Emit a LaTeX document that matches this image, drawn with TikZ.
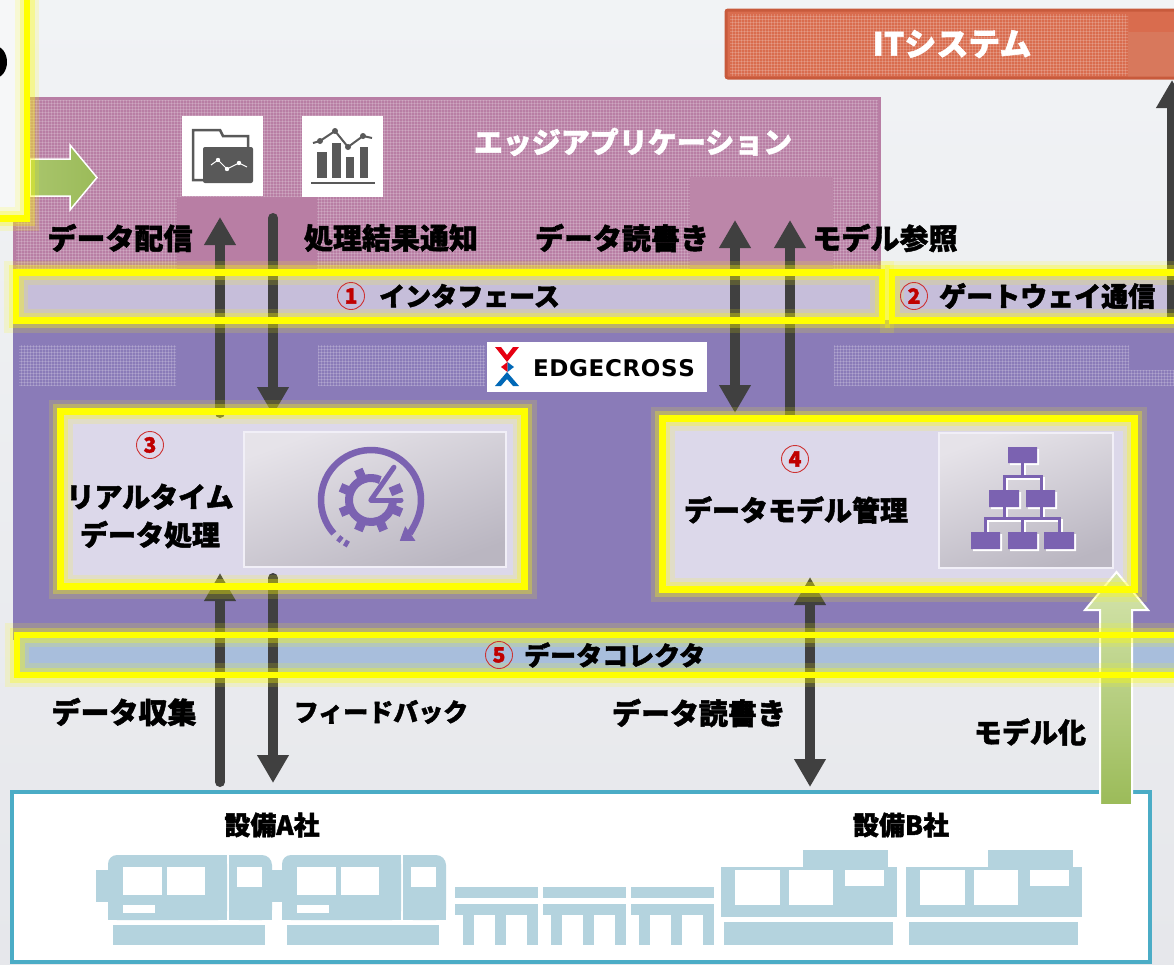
\documentclass[tikz,border=0pt]{standalone}
\usepackage{fontspec}
\setmainfont{Noto Sans CJK JP}[BoldFeatures={FakeBold=1.6}]
\newfontfamily\logofont{DejaVu Sans}
\usetikzlibrary{arrows.meta,patterns}
\newcommand\fsz[1]{\fontsize{#1}{#1}\selectfont}

\definecolor{BgT}{HTML}{F1F3F5}
\definecolor{BgB}{HTML}{E6E7EB}
\definecolor{EAc}{HTML}{B87EA4}
\definecolor{EAl}{HTML}{BC86A9}
\definecolor{ITc}{HTML}{D96C4E}
\definecolor{ITl}{HTML}{D8785C}
\definecolor{ITb}{HTML}{C85A3C}
\definecolor{ECc}{HTML}{8A7BB8}
\definecolor{IFc}{HTML}{C6BEDA}
\definecolor{DCc}{HTML}{A8BEDC}
\definecolor{INc}{HTML}{DCD8EA}
\definecolor{Dk}{HTML}{404040}
\definecolor{Yel}{HTML}{FFFF00}
\definecolor{Ic}{HTML}{7B62B1}
\definecolor{Gy}{HTML}{595959}
\definecolor{NumR}{HTML}{C00000}
\definecolor{Mach}{HTML}{B4D3DE}
\definecolor{Teal}{HTML}{4BACC6}
\definecolor{GrD}{HTML}{9BBB59}
\definecolor{GrM}{HTML}{A9C56C}
\definecolor{GrL}{HTML}{D6E5AE}
\definecolor{LogoR}{HTML}{E60012}
\definecolor{LogoB}{HTML}{0068B7}
\definecolor{PanT}{HTML}{E6E3E9}
\definecolor{PanB}{HTML}{BAB6C1}
\definecolor{Pnl}{HTML}{F6F7F8}

\tikzset{
  yglow/.style={draw=Yel, line width=6.5,
    preaction={draw=Yel, line width=24, opacity=0.15},
    preaction={draw=Yel, line width=15, opacity=0.3}},
  darr/.style={draw=Dk, line width=10, line cap=round, -{Triangle[width=30pt,length=28pt]}},
  ddarr/.style={draw=Dk, line width=10, {Triangle[width=30pt,length=28pt]}-{Triangle[width=30pt,length=28pt]}},
  lbl/.style={font={\bfseries\fsz{29}}, inner sep=0, text=black},
  wlbl/.style={lbl, text=white},
  num/.style={circle, draw=NumR!80!white, line width=0.9, minimum size=27, inner sep=0,
    font={\bfseries\fsz{21}}, text=NumR},
  tex/.style={pattern=grid, pattern color=white, opacity=0.18},
  boxnode/.style={fill=INc, inner sep=0, outer sep=0}
}

\begin{document}
\begin{tikzpicture}[x=1pt,y=-1pt]
\useasboundingbox (0,0) rectangle (1174,964);
\clip (0,0) rectangle (1174,964);
\shade[top color=BgT, bottom color=BgB] (0,0) rectangle (1174,964);

% IT system bar
\fill[ITc] (726,10) rectangle (1190,78);
\fill[tex] (730,14) rectangle (1128,75);
\fill[ITl] (1128,32) rectangle (1190,77);
\draw[ITb, line width=3, rounded corners=2] (726,10) rectangle (1190,78);

% edge application layer
\fill[EAc] (13,97) rectangle (881,300);
\fill[tex] (16,100) rectangle (878,272);
\fill[EAc] (177,197) rectangle (317,272);
\fill[EAl] (690,177) rectangle (833,272);

% folder icon
\fill[white] (182,116) rectangle (263,196);
\draw[Gy, line width=2.5] (203,180) -- (193,180) -- (193,130) -- (220,130) -- (223,136) -- (248,136) -- (248,147);
\fill[Gy, rounded corners=2] (203,147) rectangle (253,183);
\draw[white, line width=1] (211,165) -- (218,160) -- (227,169) -- (239,163) -- (247,167);
\foreach \p in {(218,160),(227,169),(239,163)} \fill[white] \p circle (2.2);

% chart icon
\fill[white] (302,116) rectangle (383,197);
\fill[Gy] (317,152) rectangle (327,178);
\fill[Gy] (332,143) rectangle (341,178);
\fill[Gy] (346,157) rectangle (354,178);
\fill[Gy] (360,147) rectangle (368,178);
\draw[Gy, line width=1.5] (311,183) -- (375,183);
\draw[Gy, line width=2] (313,143) -- (320,141) -- (335,131) -- (348,147) -- (363,136) -- (372,138);
\foreach \p in {(320,141),(335,131),(348,147),(363,136)} \fill[Gy] \p circle (3);

% left-hand panel
\fill[Pnl] (-20,-20) rectangle (27,218);
\fill[black] (-5,62) ellipse [x radius=12, y radius=16];
\shade[left color=GrM, right color=GrD, draw=white, line width=1.5]
  (30,159) -- (70,159) -- (70,145) -- (97,177.5) -- (70,210) -- (70,196) -- (30,196) -- cycle;

% EDGECROSS layer
\fill[ECc] (13,320) rectangle (1190,640);
\fill[tex] (19,345) rectangle (176,385);
\fill[tex] (318,345) rectangle (485,385);
\fill[tex] (834,345) rectangle (1129,385);
\fill[tex] (1129,370) rectangle (1174,385);
\node[fill=white, minimum width=220, minimum height=50, inner sep=0] (logo) at (597,367) {};
\fill[LogoR] (495,347) -- (501,347) -- (507,355) -- (513,347) -- (519,347) -- (507,362) -- cycle;
\fill[LogoR] (501,367) -- (507.5,362) -- (507.5,372) -- cycle;
\fill[LogoB] (507.5,362) -- (514,367) -- (507.5,372) -- cycle;
\fill[LogoB] (495,386) -- (507,372) -- (519,386) -- (513,386) -- (507,379) -- (501,386) -- cycle;
\node[font={\logofont\bfseries\fsz{23}}, inner sep=0] (logotxt) at (614,368)
  {\makebox[162pt]{E\hfill D\hfill G\hfill E\hfill C\hfill R\hfill O\hfill S\hfill S}};

% band fills
\fill[IFc] (16,272) rectangle (882,320);
\fill[IFc] (892,272) rectangle (1190,320);
\fill[DCc] (17,635) rectangle (1190,675);

% function boxes
\node[boxnode, minimum width=464, minimum height=175] (b3) at (292.5,499) {};
\node[boxnode, minimum width=472, minimum height=171] (b4) at (898.5,504) {};
\shade[top color=PanT, bottom color=PanB, shading angle=20, draw=white!60!INc, line width=2] (244,432) rectangle (506,567);
\shade[top color=PanT, bottom color=PanB, shading angle=20, draw=white!60!INc, line width=2] (939,433) rectangle (1113,568);

% real-time processing icon
\begin{scope}[shift={(371,500)}, yscale=-1]
  \draw[Ic, line width=6.5, -{Triangle[width=17pt,length=13pt]}] (222:50) arc[start angle=222, end angle=-55, radius=50];
  \foreach \a in {229,238} \draw[Ic, line width=6.5] (\a:50) arc[start angle=\a, end angle=\a+5, radius=50];
  \foreach \a in {67.5,112.5,...,337.5} \fill[Ic, rotate=\a] (-4.5,21) rectangle (4.5,33);
  \draw[Ic, line width=8] (65:22) arc[start angle=65, end angle=360, radius=22];
  \draw[Ic, line width=5, line cap=round] (0,0) -- (55:40);
  \draw[Ic, line width=5, line cap=round] (0,0) -- (0:30);
\end{scope}

% data model icon
\foreach \d/\c in {2/white,0/Ic} {
  \draw[\c, line width=3, line cap=rect, shift={(\d,\d)}]
    (1022.5,463) -- (1022.5,476) (1004,476) -- (1041,476)
    (1004,476) -- (1004,490) (1041,476) -- (1041,490)
    (1004,507) -- (1004,518) (1041,507) -- (1041,518)
    (985.5,518) -- (1059,518) (985.5,518) -- (985.5,532)
    (1022.5,518) -- (1022.5,532) (1059,518) -- (1059,532);
  \fill[\c, shift={(\d,\d)}] (1008,447) rectangle (1037,463)
    (989,490) rectangle (1019,507) (1026,490) rectangle (1055,507)
    (971,532) rectangle (1000,549) (1008,532) rectangle (1037,549) (1044,532) rectangle (1074,549);
}

% equipment frame
\node[draw=Teal, line width=4, fill=white, minimum width=1138, minimum height=170, inner sep=0, outer sep=0] (eq) at (581,877) {};
% machines of company A
\foreach \dx in {0,174} {
  \begin{scope}[shift={(\dx,0)}]
    \fill[Mach] (96,870) rectangle (109,902);
    \fill[Mach, rounded corners=9] (108,855) rectangle (227,920);
    \fill[Mach] (160,855) rectangle (227,920);
    \fill[Mach] (108,880) rectangle (227,920);
    \fill[white] (123,867) rectangle (162,895);
    \fill[white] (167,867) rectangle (205,895);
    \fill[white] (123,905) rectangle (155,913);
    \fill[Mach, rounded corners=10] (229,855) rectangle (272,920);
    \fill[Mach] (229,855) rectangle (250,920);
    \fill[Mach] (229,880) rectangle (272,920);
    \fill[white] (237,867) rectangle (262,887);
    \fill[Mach] (113,925) rectangle (265,945);
  \end{scope}
}
% conveyor tables
\foreach \tx in {455,543,631} {
  \fill[Mach] (\tx,887) rectangle ++(83,11);
  \fill[Mach] (\tx,904) rectangle ++(83,11);
  \foreach \lx in {8,40,72} \fill[Mach] (\tx+\lx,915) rectangle ++(11,30);
}
% machines of company B
\foreach \dx in {0,185} {
  \begin{scope}[shift={(\dx,0)}]
    \fill[Mach] (721,867) rectangle (897,917);
    \fill[Mach] (803,850) rectangle (888,867);
    \fill[white] (735,870) rectangle (780,905);
    \fill[white] (789,870) rectangle (833,905);
    \fill[white] (845,870) rectangle (884,886);
    \fill[Mach] (724,922) rectangle (893,945);
  \end{scope}
}

% connectors
\coordinate (a1s) at (220,413); \coordinate (a1e) at (220,217);
\coordinate (a2s) at (273,218); \coordinate (a2e) at (273,415);
\coordinate (a3s) at (220,782); \coordinate (a3e) at (220,573);
\coordinate (a4s) at (273,578); \coordinate (a4e) at (273,783);
\coordinate (a5s) at (735,220); \coordinate (a5e) at (735,413);
\coordinate (a6s) at (790,415); \coordinate (a6e) at (790,220);
\coordinate (a7s) at (810,577); \coordinate (a7e) at (810,787);
\coordinate (a8s) at (1172,318); \coordinate (a8e) at (1172,80);
\draw[darr] (a1s) -- (a1e);
\draw[darr] (a2s) -- (a2e);
\draw[darr] (a3s) -- (a3e);
\draw[darr] (a4s) -- (a4e);
\draw[ddarr] (a5s) -- (a5e);
\draw[darr] (a6s) -- (a6e);
\draw[ddarr] (a7s) -- (a7e);
\draw[darr] (a8s) -- (a8e);

% modelling arrow
\shade[top color=GrL, bottom color=GrD, draw=white, line width=2]
  (1100,805) -- (1100,610) -- (1085,610) -- (1116.5,572) -- (1148,610) -- (1132,610) -- (1132,805) -- cycle;

% highlighted frames
\draw[yglow] (-20,-20) rectangle (27,218.5);
\draw[yglow] (16,272.5) rectangle (882,320.5);
\draw[yglow] (892,272.5) rectangle (1190,320.5);
\draw[yglow] (17,635) rectangle (1190,675);
\draw[yglow] (b3.north west) rectangle (b3.south east);
\draw[yglow] (b4.north west) rectangle (b4.south east);

% texts
\node[wlbl, font={\bfseries\fsz{32}}] (it) at (952,44) {ITシステム};
\node[wlbl] (ea) at (633,142) {エッジアプリケーション};
\node[lbl] (l1) at (120,238) {データ配信};
\node[lbl] (l2) at (391,238) {処理結果通知};
\node[lbl] (l3) at (622,238) {データ読書き};
\node[lbl] (l4) at (885,238) {モデル参照};
\node[num] (n1) at (351,296) {1};
\node[lbl, font={\bfseries\fsz{26}}, anchor=west] (t1) at (379,296) {インタフェース};
\node[num] (n2) at (914,296) {2};
\node[lbl, font={\bfseries\fsz{27}}, anchor=west] (t2) at (939,296) {ゲートウェイ通信};
\node[num] (n3) at (150,445) {3};
\node[lbl, font={\bfseries\fontsize{28}{38}\selectfont}, align=center] (t3) at (150,516) {リアルタイム\\データ処理};
\node[num] (n4) at (795,459) {4};
\node[lbl, font={\bfseries\fsz{28}}] (t4) at (796,510) {データモデル管理};
\node[num] (n5) at (499,655) {5};
\node[lbl, font={\bfseries\fsz{26}}, anchor=west] (t5) at (524,655) {データコレクタ};
\node[lbl] (l5) at (124,712) {データ収集};
\node[lbl, font={\bfseries\fsz{25}}] (l6) at (381,712) {フィードバック};
\node[lbl] (l7) at (699,713) {データ読書き};
\node[lbl, font={\bfseries\fsz{28}}] (l8) at (1030,732) {モデル化};
\node[lbl, font={\bfseries\fsz{26}}] (l9) at (272,825) {設備A社};
\node[lbl, font={\bfseries\fsz{26}}] (l10) at (901,825) {設備B社};
\end{tikzpicture}
\end{document}
